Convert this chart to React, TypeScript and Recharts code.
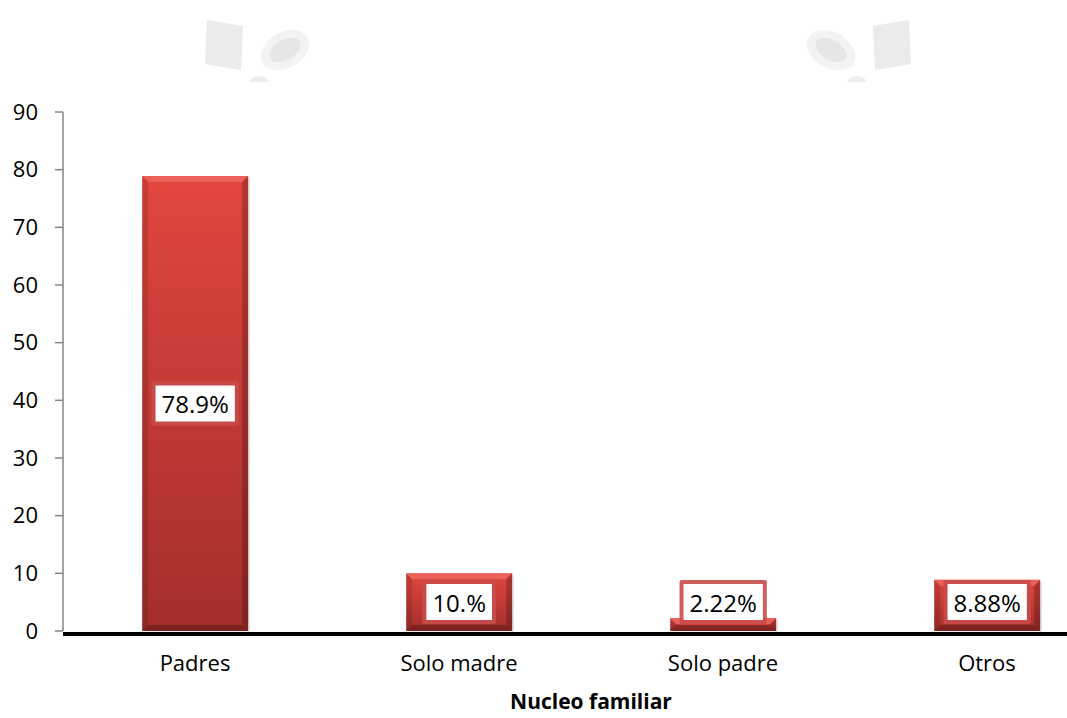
import * as React from "react";
import { BarChart, Bar, XAxis, YAxis, LabelList } from "recharts";

const categories = ["Padres", "Solo madre", "Solo padre", "Otros"];
const values = [78.9, 10, 2.22, 8.88];
const valueLabels = ["78.9%", "10.%", "2.22%", "8.88%"];
const yTicks = [0, 10, 20, 30, 40, 50, 60, 70, 80, 90];

const data = categories.map((name, i) => ({
  name,
  value: values[i],
  label: valueLabels[i],
}));

const FONT = "'Open Sans', 'Noto Sans', sans-serif";

let ctx: CanvasRenderingContext2D | null = null;
const measure = (text: string, size: number) => {
  if (!ctx) ctx = document.createElement("canvas").getContext("2d");
  if (!ctx) return text.length * size * 0.56;
  ctx.font = `${size}px ${FONT}`;
  return ctx.measureText(text).width;
};

const BevelBar = (props: any) => {
  const { x, y, width: w, height: h } = props;
  if (!h || h <= 0) return null;
  const b = Math.min(6, h / 2);
  return (
    <g>
      <rect x={x + 2} y={y + 2} width={w} height={h} fill="rgba(0,0,0,0.08)" />
      <rect x={x} y={y} width={w} height={h} fill="url(#barGrad)" />
      <polygon
        points={`${x},${y} ${x + w},${y} ${x + w - b},${y + b} ${x + b},${y + b}`}
        fill="#ee6a64"
        opacity={0.75}
      />
      <polygon
        points={`${x},${y} ${x + b},${y + b} ${x + b},${y + h - b} ${x},${y + h}`}
        fill="rgba(0,0,0,0.12)"
      />
      <polygon
        points={`${x + w},${y} ${x + w - b},${y + b} ${x + w - b},${y + h - b} ${x + w},${y + h}`}
        fill="rgba(0,0,0,0.22)"
      />
      <polygon
        points={`${x},${y + h} ${x + b},${y + h - b} ${x + w - b},${y + h - b} ${x + w},${y + h}`}
        fill="rgba(0,0,0,0.25)"
      />
    </g>
  );
};

const ValueBox = (props: any) => {
  const { x, y, width, height, value } = props;
  const size = 24;
  const tw = measure(String(value), size);
  const bw = tw + 12;
  const bh = 36;
  const cx = x + width / 2;
  const cy = Math.min(y + height / 2, y + height - 29);
  return (
    <g>
      <rect
        x={cx - bw / 2 - 4}
        y={cy - bh / 2 - 4}
        width={bw + 8}
        height={bh + 8}
        fill="#c94d4a"
        opacity={0.9}
        rx={2}
      />
      <rect x={cx - bw / 2} y={cy - bh / 2} width={bw} height={bh} fill="#fff" />
      <text
        x={cx}
        y={cy}
        textAnchor="middle"
        dominantBaseline="central"
        fontSize={size}
        fontFamily={FONT}
        fill="#000"
      >
        {value}
      </text>
    </g>
  );
};

const Decoration = ({ flip, left }: { flip?: boolean; left: number }) => (
  <svg
    width={110}
    height={70}
    style={{ position: "absolute", left, top: 12, opacity: 0.75 }}
  >
    <g transform={flip ? "translate(110,0) scale(-1,1)" : undefined}>
      <polygon points="4,8 40,14 38,58 2,52" fill="#e3e5e3" />
      <ellipse cx={82} cy={38} rx={26} ry={18} fill="#eef0ee" transform="rotate(-30 82 38)" />
      <ellipse cx={82} cy={38} rx={17} ry={10} fill="#dcdfdc" transform="rotate(-30 82 38)" />
      <circle cx={56} cy={76} r={12} fill="#e6e8e6" />
    </g>
  </svg>
);

export default function App() {
  return (
    <div
      style={{
        position: "fixed",
        left: 0,
        top: 0,
        width: 1067,
        height: 718,
        overflow: "hidden",
        background: "#fff",
        fontFamily: FONT,
      }}
    >
      <Decoration left={203} />
      <Decoration left={803} flip />
      <BarChart
        width={1130}
        height={718}
        data={data}
        margin={{ top: 112, right: 11, bottom: 0, left: 0 }}
        barCategoryGap="30%"
      >
        <defs>
          <linearGradient id="barGrad" x1="0" y1="0" x2="0" y2="1">
            <stop offset="0%" stopColor="#e2463f" />
            <stop offset="100%" stopColor="#a32e2b" />
          </linearGradient>
        </defs>
        <YAxis
          width={63}
          domain={[0, 90]}
          ticks={yTicks}
          interval={0}
          axisLine={{ stroke: "#868686", strokeWidth: 1.5 }}
          tickLine={{ stroke: "#868686", strokeWidth: 1.5 }}
          tickSize={8}
          tickMargin={17}
          tick={{ fontSize: 22, fill: "#000", fontFamily: FONT }}
        />
        <XAxis
          dataKey="name"
          height={87}
          axisLine={{ stroke: "#000", strokeWidth: 4, transform: "translate(0,3)" }}
          tickLine={false}
          tickSize={0}
          tickMargin={24}
          tick={{ fontSize: 22, fill: "#000", fontFamily: FONT }}
          label={{
            value: "Nucleo familiar",
            position: "insideBottom",
            offset: 9,
            fontSize: 21,
            fontWeight: "bold",
            fill: "#000",
            fontFamily: FONT,
          }}
        />
        <Bar dataKey="value" shape={BevelBar} isAnimationActive={false}>
          <LabelList dataKey="label" content={ValueBox} />
        </Bar>
      </BarChart>
    </div>
  );
}
